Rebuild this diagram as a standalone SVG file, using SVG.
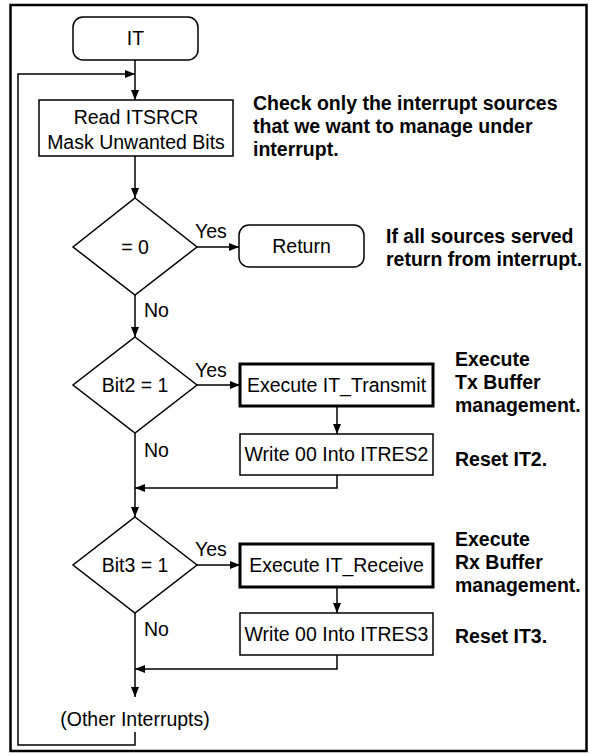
<svg xmlns="http://www.w3.org/2000/svg" width="589" height="755" viewBox="0 0 589 755">
<style>
.reg{font-family:"Liberation Sans",Arial,sans-serif;font-size:19.5px;fill:#000}
.bold{font-family:"Liberation Sans",Arial,sans-serif;font-size:19.5px;font-weight:bold;fill:#000}
.shape{fill:#fff;stroke:#000;stroke-width:1.5}
.thick{fill:#fff;stroke:#000;stroke-width:3}
.ln{fill:none;stroke:#000;stroke-width:1.5}
</style>
<defs>
<marker id="arr" viewBox="0 0 10 8" refX="10" refY="4" markerWidth="10" markerHeight="8" markerUnits="userSpaceOnUse" orient="auto">
<path d="M0,0 L10,4 L0,8 Z" fill="#000"/>
</marker>
</defs>
<rect x="0" y="0" width="589" height="755" fill="#fff"/>
<rect id="frame" x="10.5" y="5" width="576" height="746" fill="none" stroke="#000" stroke-width="2.5"/>
<g id="connectors">
<line class="ln" x1="135" y1="60" x2="135" y2="100" marker-end="url(#arr)"/>
<polyline class="ln" points="135,732 135,745 18,745 18,74 135,74" marker-end="url(#arr)"/>
<line class="ln" x1="135" y1="156" x2="135" y2="198" marker-end="url(#arr)"/>
<line class="ln" x1="197" y1="247" x2="239" y2="247" marker-end="url(#arr)"/>
<line class="ln" x1="135" y1="295" x2="135" y2="337" marker-end="url(#arr)"/>
<line class="ln" x1="197" y1="385" x2="240" y2="385" marker-end="url(#arr)"/>
<line class="ln" x1="337" y1="406" x2="337" y2="434" marker-end="url(#arr)"/>
<line class="ln" x1="135" y1="433" x2="135" y2="517" marker-end="url(#arr)"/>
<polyline class="ln" points="337,475 337,488 135,488" marker-end="url(#arr)"/>
<line class="ln" x1="197" y1="565" x2="240" y2="565" marker-end="url(#arr)"/>
<line class="ln" x1="337" y1="587" x2="337" y2="613" marker-end="url(#arr)"/>
<line class="ln" x1="135" y1="613" x2="135" y2="697" marker-end="url(#arr)"/>
<polyline class="ln" points="337,655 337,669 135,669" marker-end="url(#arr)"/>
<text class="reg" x="195" y="238">Yes</text>
<text class="reg" x="144" y="317">No</text>
<text class="reg" x="195" y="377">Yes</text>
<text class="reg" x="144" y="457">No</text>
<text class="reg" x="195" y="556">Yes</text>
<text class="reg" x="144" y="636">No</text>
</g>
<g id="n_it">
<rect class="shape" x="73" y="17" width="125" height="43" rx="10"/>
<text class="reg" x="135.5" y="45" text-anchor="middle">IT</text>
</g>
<g id="n_read">
<rect class="shape" x="39" y="100" width="194" height="56"/>
<text class="reg" x="136" y="124" text-anchor="middle">Read ITSRCR</text>
<text class="reg" x="136" y="149" text-anchor="middle">Mask Unwanted Bits</text>
</g>
<g id="n_note1">
<text class="bold" x="253" y="110">Check only the interrupt sources</text>
<text class="bold" x="253" y="133">that we want to manage under</text>
<text class="bold" x="253" y="156">interrupt.</text>
</g>
<g id="n_eq0">
<polygon class="shape" points="135,198 197,247 135,295 73,247"/>
<text class="reg" x="135" y="254" text-anchor="middle">= 0</text>
</g>
<g id="n_return">
<rect class="shape" x="239" y="225" width="125" height="42" rx="10"/>
<text class="reg" x="301.5" y="253" text-anchor="middle">Return</text>
</g>
<g id="n_note2">
<text class="bold" x="386" y="243">If all sources served</text>
<text class="bold" x="386" y="266">return from interrupt.</text>
</g>
<g id="n_bit2">
<polygon class="shape" points="135,337 197,385 135,433 73,385"/>
<text class="reg" x="135" y="392" text-anchor="middle">Bit2 = 1</text>
</g>
<g id="n_tx">
<rect class="thick" x="240" y="364" width="193" height="42"/>
<text class="reg" x="336.5" y="392" text-anchor="middle">Execute IT_Transmit</text>
</g>
<g id="n_note3">
<text class="bold" x="455" y="366">Execute</text>
<text class="bold" x="455" y="389">Tx Buffer</text>
<text class="bold" x="455" y="412">management.</text>
</g>
<g id="n_wr2">
<rect class="shape" x="240" y="434" width="193" height="41"/>
<text class="reg" x="336.5" y="461" text-anchor="middle">Write 00 Into ITRES2</text>
</g>
<g id="n_note4">
<text class="bold" x="455" y="466">Reset IT2.</text>
</g>
<g id="n_bit3">
<polygon class="shape" points="135,517 197,565 135,613 73,565"/>
<text class="reg" x="135" y="572" text-anchor="middle">Bit3 = 1</text>
</g>
<g id="n_rx">
<rect class="thick" x="240" y="544" width="193" height="43"/>
<text class="reg" x="336.5" y="572" text-anchor="middle">Execute IT_Receive</text>
</g>
<g id="n_note5">
<text class="bold" x="455" y="546">Execute</text>
<text class="bold" x="455" y="569">Rx Buffer</text>
<text class="bold" x="455" y="592">management.</text>
</g>
<g id="n_wr3">
<rect class="shape" x="240" y="613" width="193" height="42"/>
<text class="reg" x="336.5" y="641" text-anchor="middle">Write 00 Into ITRES3</text>
</g>
<g id="n_note6">
<text class="bold" x="455" y="643">Reset IT3.</text>
</g>
<g id="n_other">
<text class="reg" x="135" y="726" text-anchor="middle">(Other Interrupts)</text>
</g>
</svg>
